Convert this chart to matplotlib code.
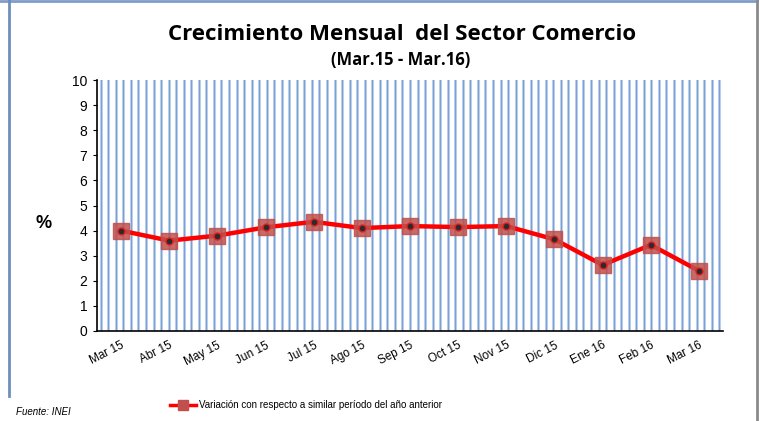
import numpy as np
import matplotlib.pyplot as plt
from matplotlib.lines import Line2D

# data
meses = ["Mar 15", "Abr 15", "May 15", "Jun 15", "Jul 15", "Ago 15", "Sep 15",
         "Oct 15", "Nov 15", "Dic 15", "Ene 16", "Feb 16", "Mar 16"]
variacion = [4.0, 3.6, 3.8, 4.13, 4.35, 4.1, 4.18, 4.14, 4.18, 3.65, 2.63, 3.43, 2.4]
y_ticks = list(range(0, 11))

fig = plt.figure(figsize=(7.59, 4.21), dpi=100)
ax = fig.add_axes([97/759, 90/421, 626/759, 251/421])

x = np.arange(len(meses))
ax.set_xlim(-0.5, len(meses) - 0.5)
ax.set_ylim(0, 10)

# striped background (pattern fill)
for sx in np.linspace(0.006, 0.994, 83):
    ax.axvline(sx * 13 - 0.5, color="#C2D5EE", lw=2.2, zorder=0)
    ax.axvline(sx * 13 - 0.5, color="#7AA1D4", lw=0.9, zorder=0)

ax.plot(x, variacion, color="#FF0000", lw=3.2, zorder=3, solid_joinstyle="round")
ax.plot(x, variacion, ls="none", marker="s", ms=11, mfc="#C0504D", mec="#C0504D",
        alpha=0.85, zorder=4)
ax.plot(x, variacion, ls="none", marker="o", ms=5, mfc="#2B2B2B", mec="#E02020",
        mew=1, zorder=5)

ax.set_yticks(y_ticks)
ax.set_yticklabels([str(v) for v in y_ticks], fontsize=10, family="Liberation Sans")
ax.set_xticks(x)
ax.set_xticklabels(meses, rotation=27, ha="right", rotation_mode="anchor",
                   fontsize=8.5, family="Liberation Sans")
ax.tick_params(axis="x", length=0, pad=6)
ax.tick_params(axis="y", length=3, pad=4)

for s in ["top", "right"]:
    ax.spines[s].set_visible(False)
ax.spines["left"].set_linestyle((0, (1, 1)))
ax.spines["left"].set_linewidth(1.2)
ax.spines["bottom"].set_linewidth(1.2)

ax.text(-0.085, 0.43, "%", transform=ax.transAxes, fontsize=13, fontweight="bold",
        ha="center", va="center", family="Liberation Sans")

fig.text(402/759, 1 - 34/421, "Crecimiento Mensual  del Sector Comercio",
         fontsize=16, fontweight="bold", family="Open Sans", ha="center", va="center")
fig.text(401/759, 1 - 60/421, "(Mar.15 - Mar.16)", fontsize=12, fontweight="bold",
         family="Open Sans", ha="center", va="center")

# legend
leg_h = Line2D([], [], color="#FF0000", lw=2.5, marker="s", ms=7, mfc="#C0504D",
               mec="#C0504D")
fig.legend([leg_h], ["Variación con respecto a similar período del año anterior"],
           loc="center", bbox_to_anchor=(306/759, 1 - 405/421), frameon=False,
           prop={"family": "Liberation Sans", "size": 7}, handlelength=2.6,
           handletextpad=0.3)

fig.text(16/759, 1 - 412/421, "Fuente: INEI", fontsize=7, style="italic",
         family="Liberation Sans", ha="left", va="center")

# outer frame
fig.add_artist(Line2D([0, 1], [1 - 1/421, 1 - 1/421], color="#7F9CC8", lw=2))
fig.add_artist(Line2D([8.5/759, 8.5/759], [1, 1 - 396/421], color="#6E8EBE", lw=2))
fig.add_artist(Line2D([757/759, 757/759], [0, 1], color="#8A8A8A", lw=2))

fig.savefig("out.png", dpi=100)
